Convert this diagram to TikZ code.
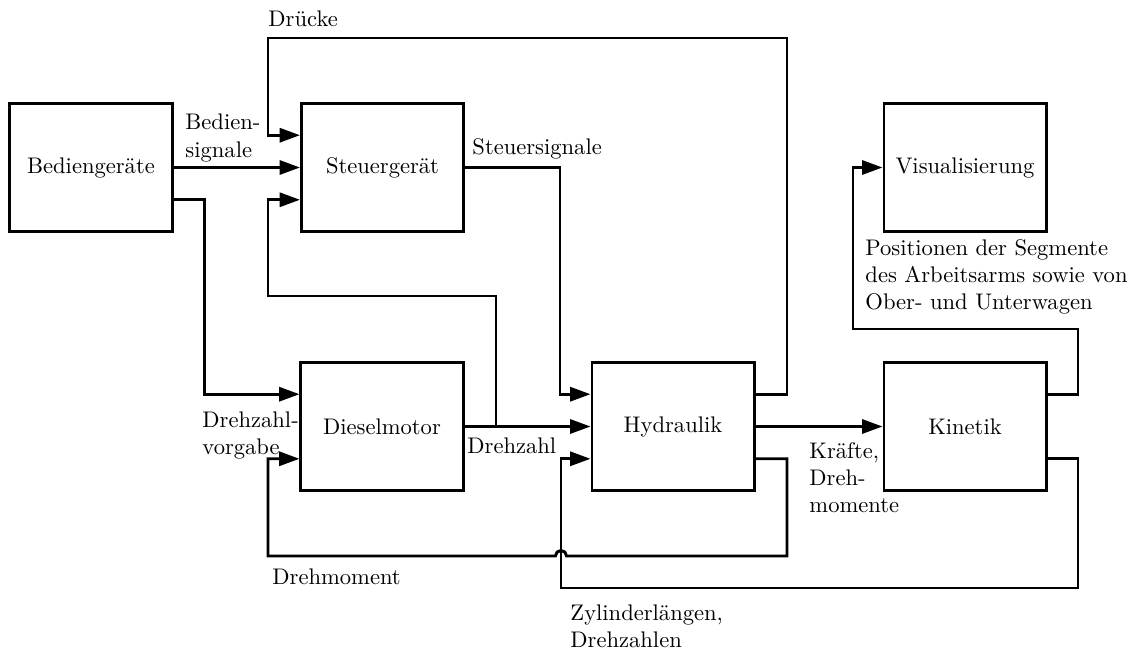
\documentclass[tikz,border=0pt]{standalone}
\usetikzlibrary{arrows.meta}
\begin{document}
\def\qoff{14.3pt}% quarter of a block height
\begin{tikzpicture}[x=0.443pt,y=-0.443pt,
  block/.style={draw,line width=1.3pt,minimum width=71.8pt,minimum height=57.1pt,inner sep=0pt},
  wire/.style={line width=1.3pt},
  flow/.style={wire,-{Triangle[length=9pt,width=6.2pt]}},
  lbl/.style={inner sep=0pt,anchor=west,align=left},
  blbl/.style={inner sep=0pt,anchor=base west}]
\useasboundingbox (0,0) rectangle (1132,653);

% blocks
\node[block] (bed) at (91,167.5) {Bediengeräte};
\node[block] (steu) at (382.5,167.5) {Steuergerät};
\node[block] (vis) at (965,167.5) {Visualisierung};
\node[block] (diesel) at (382,426.5) {Dieselmotor};
\node[block] (hyd) at (673,426.5) {Hydraulik};
\node[block] (kin) at (965,426.5) {Kinetik};

% operator signals
\draw[flow] (bed.east) -- (steu.west);
\draw[flow] ([yshift=-\qoff]bed.east) -- ++(31,0) |- ([yshift=\qoff]diesel.west);

% pressures back to the controller
\draw[flow] ([yshift=\qoff]hyd.east) -| (787,38) -- (268,38) |- ([yshift=\qoff]steu.west);

% control signals
\draw[flow] (steu.east) -| (560,300) |- ([yshift=\qoff]hyd.west);

% engine speed
\draw[flow] (diesel.east) -- (hyd.west);
\coordinate (br) at (496,426.5);
\draw[flow] (br) |- (268,296) |- ([yshift=-\qoff]steu.west);

% forces and torques
\draw[flow] (hyd.east) -- (kin.west);

% positions to the visualisation
\draw[flow] ([yshift=\qoff]kin.east) -| (1078,329) -- (853,329) |- (vis.west);

% cylinder lengths and speeds
\draw[flow] ([yshift=-\qoff]kin.east) -| (1078,588) -- (561,588) |- ([yshift=-\qoff]hyd.west);

% torque back to the engine, hopping over the line above
\draw[flow] ([yshift=-\qoff]hyd.east) -| (787,556) -- (566.5,556)
  arc[start angle=0,end angle=180,radius=2.45pt] -- (268,556) |- ([yshift=-\qoff]diesel.west);

% labels
\node[blbl] (tDruecke) at (268,27) {Drücke};
\node[lbl] (tBed) at (185,138) {Bedien-\\signale};
\node[blbl] (tSteu) at (472,155) {Steuersignale};
\node[lbl] (tVorg) at (202,435.5) {Drehzahl-\\vorgabe};
\node[blbl] (tDrz) at (467,453) {Drehzahl};
\node[lbl] (tKraft) at (809,477.5) {Kräfte,\\Dreh-\\momente};
\node[lbl] (tPos) at (865,277) {Positionen der Segmente\\des Arbeitsarms sowie von\\Ober- und Unterwagen};
\node[blbl] (tMom) at (272,584) {Drehmoment};
\node[lbl] (tZyl) at (570,626) {Zylinderlängen,\\Drehzahlen};
\end{tikzpicture}
\end{document}
